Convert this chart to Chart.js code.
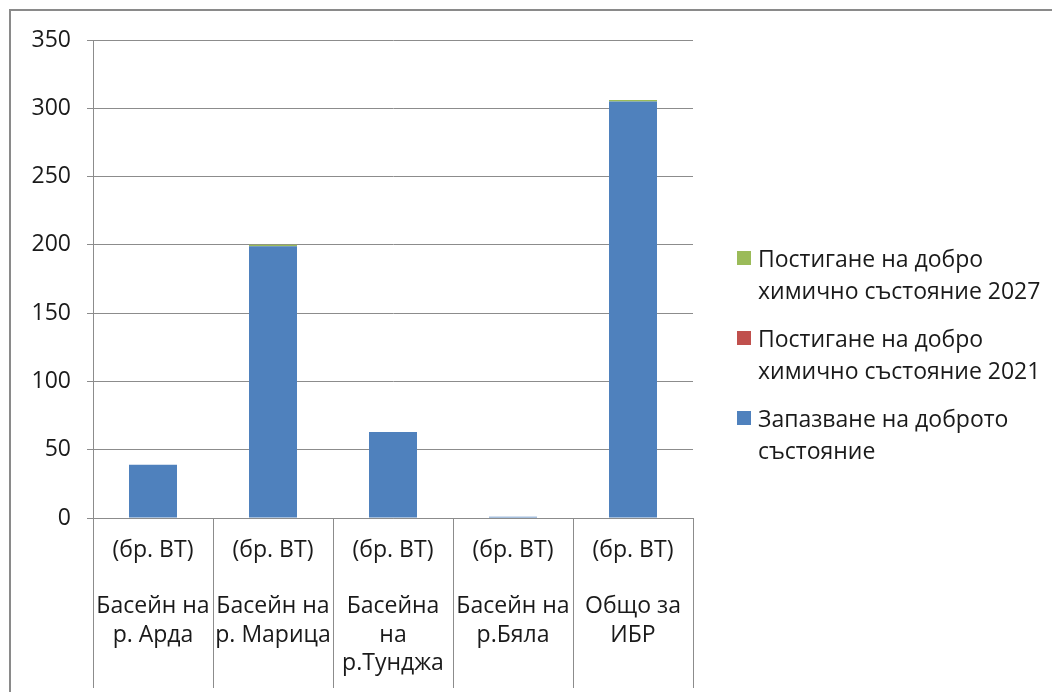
<!DOCTYPE html>
<html>
<head>
<meta charset="utf-8">
<script src="https://cdn.jsdelivr.net/npm/chart.js@4.4.1/dist/chart.umd.min.js"></script>
<style>
  html, body { margin: 0; padding: 0; background: #fff; }
  #wrap { position: relative; width: 1052px; height: 692px; overflow: hidden; }
  #frame { position: absolute; left: 9px; top: 9px; width: 1100px; height: 740px;
           border-left: 2px solid #8a8a8a; border-top: 2px solid #8a8a8a; }
  #chart { position: absolute; left: 0; top: 0; }
  #legend { position: absolute; left: 737px; top: 242px; font-family: "Open Sans", sans-serif;
            font-size: 23px; color: #1a1a1a; line-height: 32px; white-space: nowrap; }
  .item { position: relative; padding-left: 21px; margin-bottom: 16px; }
  .box { position: absolute; left: 0; top: 9px; width: 14px; height: 14px; }
</style>
</head>
<body>
<div id="wrap">
  <div id="frame"></div>
  <canvas id="chart" width="1052" height="692"></canvas>
  <div id="legend"></div>
</div>
<script>
// Category labels (multi-line, as in the source chart)
const categories = [
    ['(бр. ВТ)', '', 'Басейн на', 'р. Арда'],
    ['(бр. ВТ)', '', 'Басейн на', 'р. Марица'],
    ['(бр. ВТ)', '', 'Басейна', 'на', 'р.Тунджа'],
    ['(бр. ВТ)', '', 'Басейн на', 'р.Бяла'],
    ['(бр. ВТ)', '', 'Общо за', 'ИБР']
];

// Series values
const keepGood = [39, 199, 63, 1, 305];
const reach2021 = [0, 0, 0, 0, 0];
const reach2027 = [0, 1, 0, 0, 1];

const seriesNames = [
    ['Запазване на доброто', 'състояние'],
    ['Постигане на добро', 'химично състояние 2021'],
    ['Постигане на добро', 'химично състояние 2027']
];
const seriesColors = ['#4F81BD', '#C0504D', '#9BBB59'];

const FONT = '"Open Sans", sans-serif';
const GRID = '#8c8c8c';

const datasets = [keepGood, reach2021, reach2027].map((values, i) => ({
    label: seriesNames[i].join(' '),
    data: values,
    backgroundColor: seriesColors[i],
    borderWidth: 0,
    barPercentage: 0.4,
    categoryPercentage: 1.0
}));

const ctx = document.getElementById('chart').getContext('2d');
new Chart(ctx, {
    type: 'bar',
    data: { labels: categories, datasets: datasets },
    options: {
        responsive: false,
        animation: false,
        layout: { padding: { top: 40, right: 359, bottom: 0, left: 0 } },
        plugins: {
            legend: { display: false },
            tooltip: { enabled: false }
        },
        scales: {
            x: {
                stacked: true,
                grid: {
                    offset: true,
                    drawOnChartArea: false,
                    tickLength: 170,
                    color: GRID,
                    lineWidth: 1
                },
                border: { display: true, color: GRID, width: 1 },
                ticks: {
                    padding: -152,
                    maxRotation: 0,
                    autoSkip: false,
                    color: '#1a1a1a',
                    font: { family: FONT, size: 23, lineHeight: 1.23 }
                },
                afterFit: function(scale) { scale.height = 692 - 518; }
            },
            y: {
                stacked: true,
                min: 0,
                max: 350,
                ticks: {
                    stepSize: 50,
                    padding: 16,
                    color: '#1a1a1a',
                    font: { family: FONT, size: 23 }
                },
                grid: { color: GRID, lineWidth: 1, tickLength: 6 },
                border: { display: true, color: GRID, width: 1 },
                afterFit: function(scale) { scale.width = 93; }
            }
        }
    }
});

// HTML legend (reverse order like the source), built from the series arrays
const legend = document.getElementById('legend');
for (let i = seriesNames.length - 1; i >= 0; i--) {
    const item = document.createElement('div');
    item.className = 'item';
    const box = document.createElement('span');
    box.className = 'box';
    box.style.background = seriesColors[i];
    item.appendChild(box);
    seriesNames[i].forEach(line => {
        const d = document.createElement('div');
        d.textContent = line;
        item.appendChild(d);
    });
    legend.appendChild(item);
}
</script>
</body>
</html>
